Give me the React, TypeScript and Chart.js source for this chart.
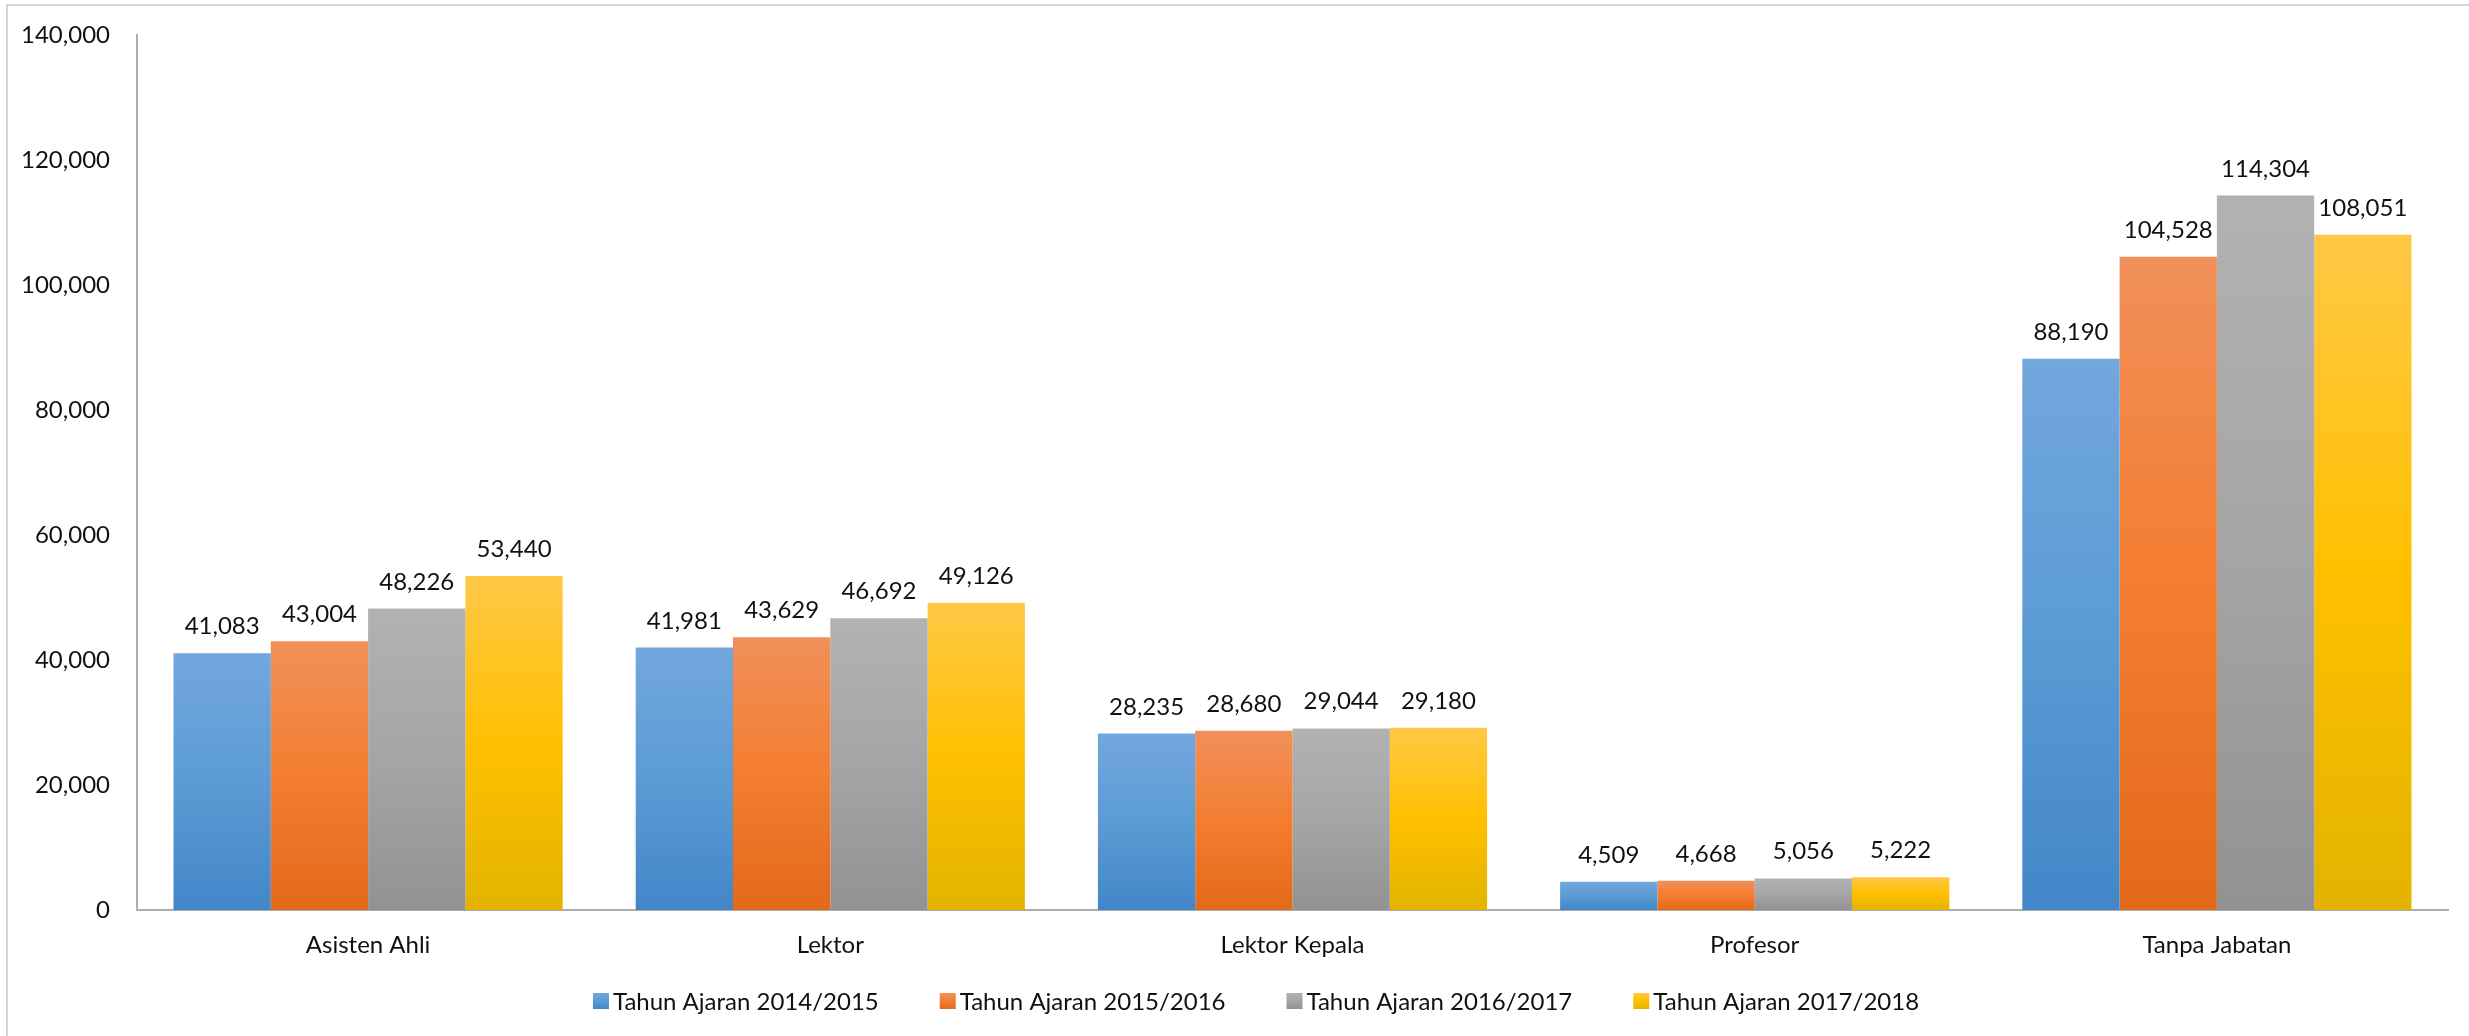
import React, { useEffect, useRef } from 'react';
import { Chart, registerables } from 'chart.js';

Chart.register(...registerables);

const categories = ['Asisten Ahli', 'Lektor', 'Lektor Kepala', 'Profesor', 'Tanpa Jabatan'];
const seriesNames = [
  'Tahun Ajaran 2014/2015',
  'Tahun Ajaran 2015/2016',
  'Tahun Ajaran 2016/2017',
  'Tahun Ajaran 2017/2018',
];
const values2014 = [41083, 41981, 28235, 4509, 88190];
const values2015 = [43004, 43629, 28680, 4668, 104528];
const values2016 = [48226, 46692, 29044, 5056, 114304];
const values2017 = [53440, 49126, 29180, 5222, 108051];
const yMin = 0;
const yMax = 140000;
const yStep = 20000;

// gradient stops: top, middle, bottom
const blueStops = ['#72a7dd', '#5b9bd5', '#4386c8'];
const orangeStops = ['#f0905a', '#f47d30', '#e3691a'];
const grayStops = ['#b2b2b2', '#a5a5a5', '#929292'];
const yellowStops = ['#ffc846', '#ffc000', '#e2b300'];

const allValues = [values2014, values2015, values2016, values2017];
const allStops = [blueStops, orangeStops, grayStops, yellowStops];

const FONT = 'Lato, "Open Sans", sans-serif';
const TEXT = '#111111';
const AXIS = '#adadad';

function makeGradient(ctx: CanvasRenderingContext2D, top: number, bottom: number, stops: string[]) {
  const g = ctx.createLinearGradient(0, top, 0, bottom);
  g.addColorStop(0, stops[0]);
  g.addColorStop(0.5, stops[1]);
  g.addColorStop(1, stops[2]);
  return g;
}

const fmt = (v: number) => v.toLocaleString('en-US');

const borderPlugin = {
  id: 'outerBorder',
  beforeDraw(chart: any) {
    const ctx = chart.ctx as CanvasRenderingContext2D;
    ctx.save();
    ctx.fillStyle = '#ffffff';
    ctx.fillRect(0, 0, chart.width, chart.height);
    ctx.strokeStyle = '#c6c6c6';
    ctx.lineWidth = 1.5;
    ctx.beginPath();
    ctx.moveTo(7, chart.height);
    ctx.lineTo(7, 5);
    ctx.lineTo(chart.width, 5);
    ctx.stroke();
    ctx.restore();
  },
};

const labelPlugin = {
  id: 'valueLabels',
  afterDatasetsDraw(chart: any) {
    const ctx = chart.ctx as CanvasRenderingContext2D;
    ctx.save();
    ctx.font = `24px ${FONT}`;
    ctx.fillStyle = TEXT;
    ctx.textAlign = 'center';
    ctx.textBaseline = 'alphabetic';
    chart.data.datasets.forEach((ds: any, i: number) => {
      const meta = chart.getDatasetMeta(i);
      meta.data.forEach((bar: any, j: number) => {
        ctx.fillText(fmt(ds.data[j]), bar.x, bar.y - 19);
      });
    });
    ctx.restore();
  },
};

const legendPlugin = {
  id: 'customLegend',
  afterDraw(chart: any) {
    const ctx = chart.ctx as CanvasRenderingContext2D;
    ctx.save();
    ctx.font = `24px ${FONT}`;
    ctx.textBaseline = 'alphabetic';
    ctx.textAlign = 'left';
    const box = 16;
    const boxGap = 4;
    const itemGap = 61;
    const widths = seriesNames.map((n) => box + boxGap + ctx.measureText(n).width);
    const total = widths.reduce((a, b) => a + b, 0) + itemGap * (seriesNames.length - 1);
    let x = 1256 - total / 2;
    const boxTop = 993;
    seriesNames.forEach((name, i) => {
      ctx.fillStyle = makeGradient(ctx, boxTop, boxTop + box, allStops[i]);
      ctx.fillRect(x, boxTop, box, box);
      ctx.fillStyle = TEXT;
      ctx.fillText(name, x + box + boxGap, 1010);
      x += widths[i] + itemGap;
    });
    ctx.restore();
  },
};

export default function App() {
  const canvasRef = useRef<HTMLCanvasElement | null>(null);

  useEffect(() => {
    const canvas = canvasRef.current;
    if (!canvas) return;
    const datasets = seriesNames.map((name, i) => ({
      label: name,
      data: allValues[i],
      categoryPercentage: 0.842,
      barPercentage: 1,
      borderWidth: 0,
      backgroundColor: (c: any) => {
        const stops = allStops[i];
        if (c.type !== 'data') return stops[1];
        const y = c.chart.scales?.y;
        if (!y) return stops[1];
        const top = y.getPixelForValue(c.raw);
        const bottom = y.getPixelForValue(0);
        if (!isFinite(top) || !isFinite(bottom) || bottom - top < 1) return stops[1];
        return makeGradient(c.chart.ctx, top, bottom, stops);
      },
    }));

    const chart = new Chart(canvas, {
      type: 'bar',
      data: { labels: categories, datasets },
      options: {
        responsive: false,
        animation: false,
        devicePixelRatio: 1,
        layout: { padding: { top: 35, right: 21, left: 0, bottom: 0 } },
        plugins: {
          legend: { display: false },
          tooltip: { enabled: false },
        },
        scales: {
          x: {
            grid: { display: false, drawTicks: false },
            border: { display: true, color: AXIS, width: 2 },
            ticks: {
              color: TEXT,
              font: { family: FONT, size: 24 },
              padding: 21,
              maxRotation: 0,
            },
            afterFit: (s: any) => {
              s.height = 126;
              s.paddingLeft = 0;
              s.paddingRight = 0;
            },
          },
          y: {
            min: yMin,
            max: yMax,
            grid: { display: false, drawTicks: false },
            border: { display: true, color: AXIS, width: 2 },
            ticks: {
              stepSize: yStep,
              color: TEXT,
              font: { family: FONT, size: 24 },
              padding: 27,
              callback: (v: any) => fmt(Number(v)),
            },
            afterFit: (s: any) => {
              s.width = 137;
              s.paddingTop = 0;
              s.paddingBottom = 0;
            },
          },
        },
      },
      plugins: [borderPlugin, labelPlugin, legendPlugin],
    });
    return () => chart.destroy();
  }, []);

  return (
    <div style={{ position: 'fixed', left: 0, top: 0, width: 2469, height: 1036, background: '#fff' }}>
      <canvas ref={canvasRef} width={2469} height={1036} style={{ display: 'block' }} />
    </div>
  );
}
